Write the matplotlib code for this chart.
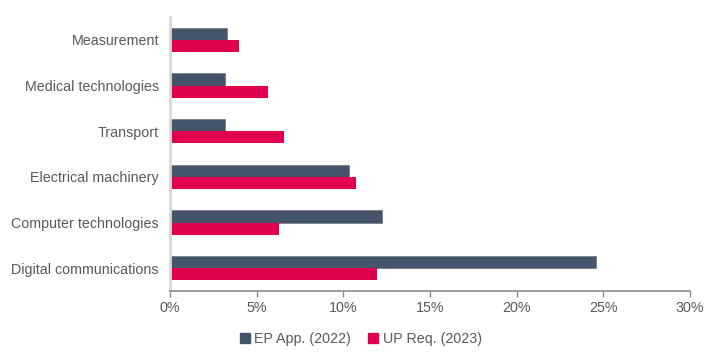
import matplotlib
matplotlib.use("Agg")
import matplotlib.pyplot as plt
import numpy as np
from matplotlib.patches import Patch
from matplotlib.ticker import FuncFormatter, MultipleLocator

plt.rcParams['font.family'] = ['Liberation Sans', 'DejaVu Sans']

categories = ["Digital communications", "Computer technologies", "Electrical machinery",
              "Transport", "Medical technologies", "Measurement"]
ep_app_2022 = [24.6, 12.25, 10.3, 3.2, 3.2, 3.3]
up_req_2023 = [11.95, 6.3, 10.75, 6.6, 5.65, 4.0]
series_names = ["EP App. (2022)", "UP Req. (2023)"]

c_ep = "#44546A"
c_up = "#E0004D"
txt = "#595959"

fig = plt.figure(figsize=(7.22, 3.61), dpi=100)
ax = fig.add_axes([170/722, 1-291/361, 520/722, 274/361])

y = np.arange(len(categories))
h = 0.265
ax.barh(y + h/2, ep_app_2022, height=h, color=c_ep, edgecolor="#7F7F7F", linewidth=0.6)
ax.barh(y - h/2, up_req_2023, height=h, color=c_up, linewidth=0)

ax.set_ylim(-0.5, len(categories) - 0.5)
ax.set_xlim(0, 30)
ax.xaxis.set_major_locator(MultipleLocator(5))
ax.xaxis.set_major_formatter(FuncFormatter(lambda v, p: f"{v:.0f}%"))
ax.set_yticks(y)
ax.set_yticklabels(categories)

for s in ["top", "right"]:
    ax.spines[s].set_visible(False)
ax.spines["left"].set_color("#D9D9D9")
ax.spines["left"].set_linewidth(2)
ax.spines["bottom"].set_color("#8C8C8C")
ax.spines["bottom"].set_linewidth(1.2)
ax.tick_params(axis="y", length=0, pad=8, labelsize=10.3, labelcolor=txt)
ax.tick_params(axis="x", length=4, width=1, color="#8C8C8C", pad=3, labelsize=10.3, labelcolor=txt)

handles = [Patch(color=c_ep), Patch(color=c_up)]
fig.legend(handles, series_names, loc="center", bbox_to_anchor=(0.5, 0.062), ncol=2,
           frameon=False, fontsize=10.3, labelcolor=txt, handlelength=0.7, handleheight=0.7,
           handletextpad=0.3, columnspacing=1.2)

fig.savefig("out.png", dpi=100)
